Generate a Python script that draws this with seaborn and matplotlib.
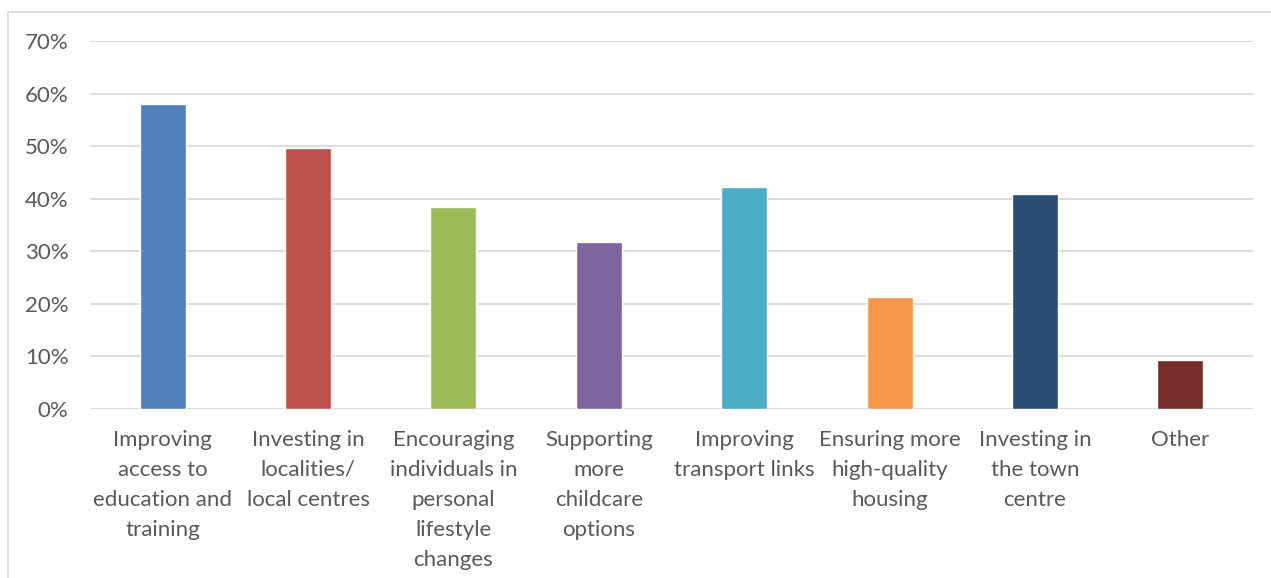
import matplotlib
matplotlib.use("Agg")
import matplotlib.pyplot as plt
import seaborn as sns
import pandas as pd
from matplotlib.patches import Rectangle
from matplotlib.ticker import FuncFormatter

categories = [
    "Improving\naccess to\neducation and\ntraining",
    "Investing in\nlocalities/\nlocal centres",
    "Encouraging\nindividuals in\npersonal\nlifestyle\nchanges",
    "Supporting\nmore\nchildcare\noptions",
    "Improving\ntransport links",
    "Ensuring more\nhigh-quality\nhousing",
    "Investing in\nthe town\ncentre",
    "Other",
]
values = [0.580, 0.497, 0.384, 0.318, 0.422, 0.213, 0.409, 0.093]
colors = ["#4F81BD", "#C0504D", "#9BBB59", "#8064A2", "#4BACC6", "#F79646", "#2C4D75", "#772C2A"]
yticks = [0, 0.1, 0.2, 0.3, 0.4, 0.5, 0.6, 0.7]

sns.set_style("white")
plt.rcParams['font.family'] = ['Lato', 'DejaVu Sans']

df = pd.DataFrame({"cat": categories, "val": values})

fig = plt.figure(figsize=(12.71, 5.78), dpi=100)
W, H = 1271, 578
ax = fig.add_axes([90 / W, 1 - 409 / H, (1253 - 90) / W, (409 - 41) / H])

sns.barplot(data=df, x="cat", y="val", hue="cat", palette=colors, legend=False,
            width=0.316, ax=ax, saturation=1)

ax.set_ylim(0, 0.7)
ax.set_xlim(-0.5, len(categories) - 0.5)
ax.set_yticks(yticks)
ax.yaxis.set_major_formatter(FuncFormatter(lambda v, p: f"{round(v*100)}%"))
ax.grid(axis="y", color="#D9D9D9", linewidth=1.3)
ax.set_axisbelow(True)
for s in ax.spines.values():
    s.set_visible(False)
ax.set_xlabel("")
ax.set_ylabel("")
ax.tick_params(axis="y", length=0, labelsize=16, colors="#595959", pad=15.5)
ax.tick_params(axis="x", length=0, labelsize=16, colors="#595959", pad=15)
for lab in ax.get_xticklabels():
    lab.set_linespacing(1.62)
    lab.set_verticalalignment("top")

fig.patches.append(Rectangle((8 / W, -0.01), 1.0, 1 - 12 / H + 0.01, transform=fig.transFigure,
                             fill=False, edgecolor="#D9D9D9", linewidth=1.2))

fig.savefig("out.png", dpi=100)
